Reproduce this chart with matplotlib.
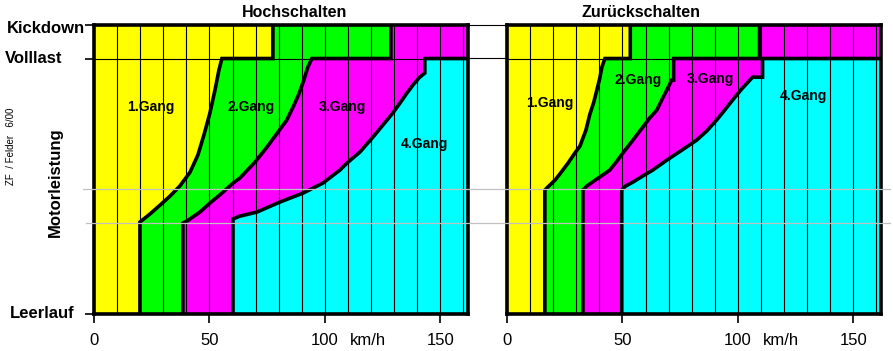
import numpy as np
from matplotlib import pyplot as plt
from matplotlib.lines import Line2D

plt.rcParams['font.family'] = ['Liberation Sans', 'DejaVu Sans']

gear_names = ["1.Gang", "2.Gang", "3.Gang", "4.Gang"]
gear_colors = ["#ffff00", "#00ff00", "#ff00ff", "#00ffff"]

load_values = [0, 100, 113]
load_labels = ["Leerlauf", "Volllast", "Kickdown"]
speed_ticks = [0, 50, 100, 150]
speed_labels = ["0", "50", "100", "150"]
speed_max = 162

# Hochschalten: shift lines, speed in km/h against engine load (Leerlauf = 0, Volllast = 100)
up_12_speed = [19.9, 19.9, 24.2, 28.6, 32.9, 37.2, 41.6, 45.0, 47.6, 50.2, 52.4, 54.1, 55.4]
up_12_load = [0, 36.0, 39.1, 42.6, 46.1, 50.1, 55.5, 62.2, 70.0, 78.6, 87.6, 95.4, 100]
up_23_speed = [38.5, 38.5, 40.3, 45.9, 50.2, 55.4, 60.2, 63.2, 69.7, 74.9, 79.7, 83.5, 86.6, 88.7, 90.9, 92.6, 94.4]
up_23_load = [0, 35.6, 36.4, 39.9, 43.4, 47.3, 51.2, 53.2, 59.4, 65.3, 71.2, 75.9, 81.7, 86.0, 91.5, 96.6, 100]
up_34_speed = [60.2, 60.2, 63.2, 70.6, 80.5, 90.5, 99.1, 106.5, 109.5, 115.2, 120.8, 125.1, 129.4, 132.5, 135.5,
               138.5, 141.1, 143.3, 143.3]
up_34_load = [0, 37.2, 38.3, 39.9, 43.8, 47.3, 51.2, 56.3, 59.0, 63.4, 69.2, 73.9, 78.6, 82.5, 86.4, 90.0, 92.7,
              94.3, 100]
# shift points in the kickdown band (between Volllast and Kickdown)
up_kickdown = [77.5, 128.6]

# Zurückschalten
down_12_speed = [16.4, 16.4, 17.7, 20.8, 22.9, 26.4, 29.4, 31.6, 34.2, 35.9, 37.6, 38.9, 40.2, 41.1, 42.4]
down_12_load = [0, 48.5, 49.7, 52.4, 54.8, 59.0, 63.0, 65.7, 72.0, 78.2, 82.9, 87.6, 92.3, 96.6, 100]
down_23_speed = [32.9, 32.9, 34.6, 37.6, 40.2, 44.5, 47.6, 50.2, 54.5, 58.8, 61.8, 64.9, 67.0, 69.2, 71.3, 72.2, 72.2]
down_23_load = [0, 48.5, 50.1, 52.0, 53.6, 56.3, 59.8, 63.0, 68.0, 73.1, 76.7, 79.8, 83.7, 87.6, 91.5, 91.5, 100]
down_34_speed = [49.7, 49.7, 51.4, 54.5, 58.8, 63.1, 69.2, 75.7, 82.1, 86.5, 90.8, 94.3, 97.7, 102.0, 106.4, 110.7,
                 110.7]
down_34_load = [0, 48.5, 50.1, 51.6, 54.0, 56.3, 60.2, 64.1, 68.0, 71.6, 75.9, 79.8, 83.7, 88.4, 92.7, 92.7, 100]
down_kickdown = [53.4, 109.4]


# draws one shift diagram: coloured gear areas, grid, thick shift lines and gear names
def draw_panel(ax, speeds, loads, kickdown, label_pos):
    vollast, kick = load_values[1], load_values[2]
    # borders of the gear areas below Volllast, from left edge to right edge
    borders = [([0, 0], [0, vollast])] + list(zip(speeds, loads)) + [([speed_max, speed_max], [0, vollast])]
    for i in range(4):
        xs = list(borders[i][0]) + list(borders[i + 1][0])[::-1]
        ys = list(borders[i][1]) + list(borders[i + 1][1])[::-1]
        ax.fill(xs, ys, color=gear_colors[i], lw=0, zorder=1)

    # kickdown band
    splits = [0] + kickdown + [speed_max]
    for i in range(3):
        ax.fill_between([splits[i], splits[i + 1]], vollast, kick, color=gear_colors[i], lw=0, zorder=1)

    # thin grid every 10 km/h and the Volllast line
    ax.vlines(np.arange(10, speed_max, 10), 0, kick, color="black", lw=0.8, zorder=2)
    ax.axhline(vollast, color="black", lw=0.8, zorder=2)

    # thick shift lines
    for i in range(3):
        xs = list(speeds[i])
        ys = list(loads[i])
        if i < len(kickdown):
            xs += [kickdown[i], kickdown[i]]
            ys += [vollast, kick]
        else:
            xs += [speed_max]
            ys += [vollast]
        ax.plot(xs, ys, color="black", lw=2.6, solid_joinstyle="miter", zorder=3)

    for name, (x, y) in zip(gear_names, label_pos):
        ax.text(x, y, name, ha="center", va="center", fontsize=10, fontweight="bold", zorder=4)

    ax.set_xlim(0, speed_max)
    ax.set_ylim(0, kick)
    for side in ax.spines:
        ax.spines[side].set_linewidth(2.6)
        ax.spines[side].set_zorder(5)
    ax.set_xticks(speed_ticks)
    ax.set_xticklabels(speed_labels, fontsize=12)
    ax.tick_params(axis="x", length=6.5, width=1.2, pad=7)
    ax.annotate("km/h", xy=(118.6, 0), xycoords=("data", "axes fraction"), xytext=(0, -13.5),
                textcoords="offset points", ha="center", va="top", fontsize=12)


fig = plt.figure(figsize=(8.93, 3.51), dpi=100)
ax_up = fig.add_axes([94 / 893, 37 / 351, 374 / 893, 288.7 / 351])
ax_down = fig.add_axes([507 / 893, 37 / 351, 374 / 893, 288.7 / 351])

draw_panel(ax_up, [up_12_speed, up_23_speed, up_34_speed], [up_12_load, up_23_load, up_34_load], up_kickdown,
           [(24.6, 81.0), (67.9, 81.0), (107.6, 81.0), (143.3, 66.5)])
draw_panel(ax_down, [down_12_speed, down_23_speed, down_34_speed], [down_12_load, down_23_load, down_34_load],
           down_kickdown, [(18.4, 82.7), (56.7, 91.7), (88.3, 92.1), (128.3, 85.3)])

ax_up.set_yticks(load_values)
ax_up.set_yticklabels([])
ax_up.tick_params(axis="y", length=6.5, width=1.2)
ax_down.set_yticks([])

# load labels on the left
fig.text(10 / 893, 1 - 318 / 351, load_labels[0], fontsize=12, fontweight="bold", va="baseline")
fig.text(5 / 893, 1 - 63 / 351, load_labels[1], fontsize=12, fontweight="bold", va="baseline")
fig.text(7 / 893, 1 - 33 / 351, load_labels[2], fontsize=12, fontweight="bold", va="baseline")

fig.text(295 / 893, 1 - 17 / 351, "Hochschalten", fontsize=11.5, fontweight="bold", ha="center", va="baseline")
fig.text(641.5 / 893, 1 - 17 / 351, "Zurückschalten", fontsize=11.5, fontweight="bold", ha="center", va="baseline")
fig.text(55.5 / 893, 1 - 182.5 / 351, "Motorleistung", fontsize=12, fontweight="bold", rotation=90,
         ha="center", va="center")
fig.text(11.5 / 893, 1 - 146 / 351, "ZF  / Felder   6/00", fontsize=7, rotation=90, ha="center", va="center")

# thin lines across the gap between the two diagrams
for y in [25.3, 58.3]:
    fig.add_artist(Line2D([468 / 893, 507 / 893], [1 - y / 351, 1 - y / 351], color="black", lw=0.8))
# light grey helper lines
fig.add_artist(Line2D([83 / 893, 890 / 893], [1 - 189.3 / 351] * 2, color="#c0c0c0", lw=0.9, zorder=6))
fig.add_artist(Line2D([86 / 893, 890 / 893], [1 - 223 / 351] * 2, color="#c0c0c0", lw=0.9, zorder=6))

fig.savefig("out.png", dpi=100)
